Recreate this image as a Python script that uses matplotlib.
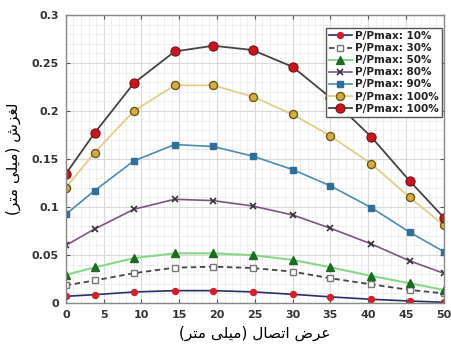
import matplotlib
matplotlib.use('Agg')
import matplotlib.pyplot as plt
from matplotlib.ticker import AutoMinorLocator, MultipleLocator

# Joint width (mm) and slip (mm) for each load ratio
width = [0, 3.8, 9, 14.4, 19.5, 24.7, 30, 35, 40.4, 45.5, 50]
slip_10 = [0.0069, 0.0086, 0.0114, 0.0128, 0.0128, 0.0115, 0.0090, 0.0063, 0.0038, 0.0020, 0.0007]
slip_30 = [0.0183, 0.0234, 0.0310, 0.0367, 0.0378, 0.0364, 0.0326, 0.0257, 0.0194, 0.0135, 0.0100]
slip_50 = [0.0293, 0.0370, 0.0466, 0.0517, 0.0517, 0.0498, 0.0448, 0.0372, 0.0281, 0.0205, 0.0135]
slip_80 = [0.0600, 0.0770, 0.0976, 0.1080, 0.1066, 0.1010, 0.0917, 0.0778, 0.0615, 0.0438, 0.0309]
slip_90 = [0.0924, 0.1170, 0.1480, 0.1650, 0.1630, 0.1530, 0.1390, 0.1220, 0.0993, 0.0736, 0.0535]
slip_100a = [0.1200, 0.1566, 0.2000, 0.2267, 0.2267, 0.2150, 0.1965, 0.1740, 0.1450, 0.1100, 0.0810]
slip_100b = [0.1345, 0.1770, 0.2290, 0.2620, 0.2680, 0.2635, 0.2460, 0.2140, 0.1730, 0.1270, 0.0890]
labels = ['P/Pmax: 10%', 'P/Pmax: 30%', 'P/Pmax: 50%', 'P/Pmax: 80%',
          'P/Pmax: 90%', 'P/Pmax: 100%', 'P/Pmax: 100%']

xlabel_fa = 'عرض اتصال (میلی متر)'
ylabel_fa = 'لغزش (میلی متر)'

# minimal Persian shaping: (isolated, final, initial, medial)
FORMS = {
    'ا': ('\uFE8D', '\uFE8E', None, None),
    'ر': ('\uFEAD', '\uFEAE', None, None),
    'ز': ('\uFEAF', '\uFEB0', None, None),
    'ع': ('\uFEC9', '\uFECA', '\uFECB', '\uFECC'),
    'غ': ('\uFECD', '\uFECE', '\uFECF', '\uFED0'),
    'ض': ('\uFEBD', '\uFEBE', '\uFEBF', '\uFEC0'),
    'ص': ('\uFEB9', '\uFEBA', '\uFEBB', '\uFEBC'),
    'ت': ('\uFE95', '\uFE96', '\uFE97', '\uFE98'),
    'ش': ('\uFEB5', '\uFEB6', '\uFEB7', '\uFEB8'),
    'ل': ('\uFEDD', '\uFEDE', '\uFEDF', '\uFEE0'),
    'م': ('\uFEE1', '\uFEE2', '\uFEE3', '\uFEE4'),
    'ی': ('\uFBFC', '\uFBFD', '\uFBFE', '\uFBFF'),
}


def shape_fa(text):
    out = []
    for i, ch in enumerate(text):
        if ch not in FORMS:
            out.append(ch)
            continue
        prev = text[i - 1] if i > 0 else ''
        nxt = text[i + 1] if i + 1 < len(text) else ''
        join_prev = prev in FORMS and FORMS[prev][2] is not None
        join_next = FORMS[ch][2] is not None and nxt in FORMS
        iso, fin, ini, med = FORMS[ch]
        if join_prev and join_next:
            out.append(med)
        elif join_prev:
            out.append(fin)
        elif join_next:
            out.append(ini)
        else:
            out.append(iso)
    mirror = {'(': ')', ')': '('}
    return ''.join(mirror.get(c, c) for c in reversed(out))


plt.rcParams['font.family'] = ['DejaVu Sans']

fig = plt.figure(figsize=(4.51, 3.49), dpi=100)
ax = fig.add_axes([0.146, 0.132, 0.838, 0.825])

ax.plot(width, slip_10, color='#2b2d6b', lw=1.2, marker='o', ms=4.3,
        mfc='#d0202a', mec='#d0202a', label=labels[0])
ax.plot(width, slip_30, color='#444444', lw=1.3, ls=(0, (3, 2)), marker='s', ms=4.2,
        mfc='white', mec='#777777', label=labels[1])
ax.plot(width, slip_50, color='#86d886', lw=1.5, marker='^', ms=5.5,
        mfc='#1f6a22', mec='#1f6a22', label=labels[2])
ax.plot(width, slip_80, color='#7b557e', lw=1.2, marker='x', ms=5,
        mec='#333333', mew=1.2, label=labels[3])
ax.plot(width, slip_90, color='#4a8db0', lw=1.2, marker='s', ms=4,
        mfc='#2f6f9a', mec='#2f6f9a', label=labels[4])
ax.plot(width, slip_100a, color='#e0cf84', lw=1.3, marker='o', ms=5.8,
        mfc='#d6ad45', mec='#6e5618', mew=1.0, label=labels[5])
ax.plot(width, slip_100b, color='#444444', lw=1.3, marker='o', ms=6.6,
        mfc='#c8161e', mec='#7a1014', mew=0.8, label=labels[6])

ax.set_xlim(0, 50)
ax.set_ylim(0, 0.3)
ax.xaxis.set_major_locator(MultipleLocator(5))
ax.xaxis.set_minor_locator(AutoMinorLocator(5))
ax.set_yticks([0, 0.05, 0.1, 0.15, 0.2, 0.25, 0.3])
ax.set_yticklabels(['0', '0.05', '0.1', '0.15', '0.2', '0.25', '0.3'])
ax.yaxis.set_minor_locator(AutoMinorLocator(5))

ax.grid(True, which='major', color='#d9d9d9', lw=0.8)
ax.grid(True, which='minor', color='#ececec', lw=0.6)
ax.set_axisbelow(True)
ax.tick_params(which='both', direction='in', top=True, right=True,
               color='#555555')
ax.tick_params(which='minor', length=0)
ax.tick_params(which='major', length=3, labelsize=8, labelcolor='#333333', pad=5)
for lab in ax.get_xticklabels() + ax.get_yticklabels():
    lab.set_fontweight('bold')
for sp in ax.spines.values():
    sp.set_color('#888888')
    sp.set_linewidth(1.0)

ax.set_xlabel(shape_fa(xlabel_fa), fontsize=11, labelpad=4)
ax.set_ylabel(shape_fa(ylabel_fa), fontsize=11, labelpad=8)

leg = ax.legend(loc='upper right', bbox_to_anchor=(0.995, 0.955),
                borderaxespad=0, fontsize=7.5, handlelength=2.2,
                handletextpad=0.3, labelspacing=0.2, borderpad=0.3,
                fancybox=False, framealpha=1, edgecolor='#555555')
for t in leg.get_texts():
    t.set_fontweight('bold')
    t.set_color('#222222')

fig.savefig('out.png', dpi=100, facecolor='white')
